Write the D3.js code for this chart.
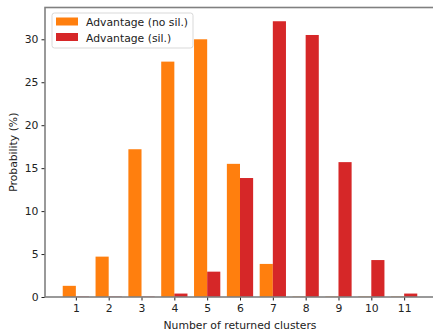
<!DOCTYPE html>
<html>
<head>
<meta charset="utf-8">
<script src="https://cdn.jsdelivr.net/npm/d3@7"></script>
<style>
  body { margin: 0; background: #fff; }
  svg { display: block; font-family: "DejaVu Sans", sans-serif; }
</style>
</head>
<body>
<div id="chart"></div>
<script>
const clusters = [1, 2, 3, 4, 5, 6, 7, 8, 9, 10, 11];
const noSil = [1.3, 4.7, 17.2, 27.4, 30.0, 15.5, 3.85, 0.05, 0.05, 0.05, 0.05];
const sil = [0.05, 0.05, 0.05, 0.4, 2.95, 13.85, 32.1, 30.5, 15.7, 4.3, 0.4];
const yTicks = [0, 5, 10, 15, 20, 25, 30];
const seriesNames = ["Advantage (no sil.)", "Advantage (sil.)"];
const colors = ["#ff7f0e", "#d62728"];

const width = 433, height = 333;
const margin = {top: 7.5, right: -2, bottom: 36, left: 45};
const barW = 0.4;
const fs = 10.8;

const svg = d3.select("#chart").append("svg")
    .attr("width", width)
    .attr("height", height);

const x = d3.scaleLinear()
    .domain([0.06, 11.94])
    .range([margin.left, width - margin.right]);

const y = d3.scaleLinear()
    .domain([0, 33.7])
    .range([height - margin.bottom, margin.top]);

// bars
[noSil, sil].forEach((vals, s) => {
  svg.append("g")
      .attr("fill", colors[s])
    .selectAll("rect")
    .data(vals)
    .join("rect")
      .attr("x", (d, i) => x(clusters[i] - barW + s * barW))
      .attr("width", x(barW) - x(0))
      .attr("y", d => y(d))
      .attr("height", d => y(0) - y(d));
});

// axes
const xAxis = svg.append("g")
    .attr("transform", `translate(0,${y(0)})`)
    .call(d3.axisBottom(x).tickValues(clusters).tickSize(3.5).tickPadding(3.5).tickFormat(d3.format("d")));

const yAxis = svg.append("g")
    .attr("transform", `translate(${margin.left},0)`)
    .call(d3.axisLeft(y).tickValues(yTicks).tickSize(3.5).tickPadding(3));

[xAxis, yAxis].forEach(g => {
  g.select(".domain").remove();
  g.selectAll("text").attr("font-size", fs).attr("fill", "#222").attr("font-family", "DejaVu Sans");
  g.selectAll("line").attr("stroke", "#222");
});

// spines
svg.append("rect")
    .attr("x", margin.left)
    .attr("y", margin.top)
    .attr("width", x.range()[1] - margin.left)
    .attr("height", y(0) - margin.top)
    .attr("fill", "none")
    .attr("stroke", "#808080")
    .attr("stroke-width", 1.6);

// labels
svg.append("text")
    .attr("x", (margin.left + x.range()[1]) / 2)
    .attr("y", height - 4.5)
    .attr("text-anchor", "middle")
    .attr("font-size", fs)
    .attr("fill", "#222")
    .text("Number of returned clusters");

svg.append("text")
    .attr("transform", `translate(17,${(margin.top + y(0)) / 2}) rotate(-90)`)
    .attr("text-anchor", "middle")
    .attr("font-size", fs)
    .attr("fill", "#222")
    .text("Probability (%)");

// legend
const legend = svg.append("g").attr("transform", "translate(52,13)");
legend.append("rect")
    .attr("width", 141)
    .attr("height", 35)
    .attr("rx", 2.5)
    .attr("fill", "#fff")
    .attr("fill-opacity", 0.8)
    .attr("stroke", "#d9d9d9")
    .attr("stroke-width", 1);

seriesNames.forEach((name, i) => {
  const row = legend.append("g").attr("transform", `translate(4,${4.5 + i * 15.5})`);
  row.append("rect")
      .attr("width", 22)
      .attr("height", 8)
      .attr("fill", colors[i]);
  row.append("text")
      .attr("x", 30)
      .attr("y", 8.5)
      .attr("font-size", fs)
      .attr("fill", "#222")
      .text(name);
});
</script>
</body>
</html>
